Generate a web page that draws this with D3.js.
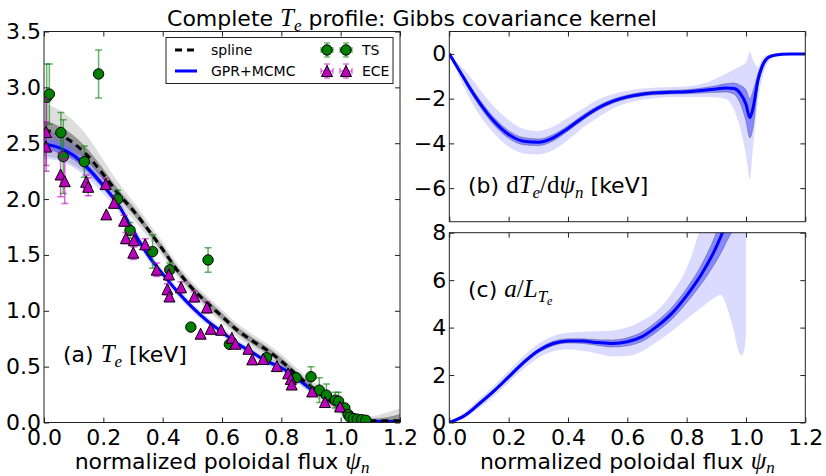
<!DOCTYPE html>
<html>
<head>
<meta charset="utf-8">
<script src="https://cdn.jsdelivr.net/npm/d3@7"></script>
<style>
  body { margin: 0; background: #fff; }
  svg { display: block; }
  text { font-family: "DejaVu Sans", sans-serif; fill: #000; }
</style>
</head>
<body>
<svg id="chart" width="826" height="476"></svg>
<script>
// ---------- (a) electron temperature profile ----------
const psiA = [0,0.05,0.1,0.15,0.2,0.25,0.3,0.35,0.4,0.45,0.5,0.55,0.6,0.65,0.7,0.75,0.8,0.85,0.9,0.95,1.0,1.05,1.1,1.15,1.2];
const splineTe  = [2.62,2.58,2.50,2.38,2.22,2.05,1.90,1.73,1.55,1.36,1.20,1.07,0.95,0.83,0.735,0.65,0.55,0.43,0.32,0.22,0.12,0.035,0.015,0.015,0.015];
const splineSd1 = [0.08,0.075,0.07,0.06,0.05,0.04,0.035,0.03,0.03,0.03,0.03,0.03,0.03,0.03,0.03,0.03,0.03,0.03,0.03,0.03,0.025,0.02,0.02,0.03,0.06];
const splineSd2 = [0.24,0.22,0.20,0.17,0.13,0.10,0.08,0.07,0.065,0.06,0.06,0.06,0.06,0.06,0.06,0.06,0.06,0.06,0.06,0.055,0.05,0.04,0.04,0.07,0.11];
const gprTe  = [2.49,2.46,2.39,2.27,2.12,1.95,1.72,1.50,1.33,1.17,1.03,0.91,0.81,0.71,0.63,0.55,0.49,0.40,0.30,0.23,0.15,0.03,0.01,0.01,0.01];
const gprSd1 = [0.05,0.045,0.04,0.035,0.03,0.025,0.02,0.02,0.02,0.02,0.018,0.018,0.018,0.018,0.018,0.018,0.018,0.018,0.018,0.018,0.015,0.012,0.01,0.01,0.01];
const gprSd2 = [0.13,0.12,0.11,0.09,0.075,0.06,0.05,0.045,0.04,0.04,0.038,0.038,0.038,0.038,0.038,0.038,0.038,0.038,0.036,0.034,0.03,0.022,0.02,0.02,0.02];

// Thomson scattering points: psi, Te, error
const tsPsi = [0.009,0.018,0.057,0.065,0.136,0.184,0.248,0.29,0.366,0.424,0.495,0.553,0.625,0.75,0.85,0.90,0.928,0.952,0.982,0.993,1.014,1.025,1.031,1.043,1.056,1.071,1.085];
const tsTe  = [2.91,2.94,2.595,2.38,2.335,3.12,2.00,1.72,1.53,1.367,0.854,1.455,0.70,0.58,0.40,0.41,0.29,0.245,0.20,0.19,0.13,0.071,0.048,0.036,0.03,0.025,0.02];
const tsErr = [0.30,0.27,0.18,0.33,0.14,0.215,0.08,0.07,0.15,0.06,0.02,0.11,0.02,0.03,0.03,0.09,0.11,0.10,0.07,0.08,0.03,0.02,0.01,0.01,0.01,0.01,0.01];

// ECE points: psi, Te, error
const ecePsi = [0.007,0.007,0.056,0.07,0.142,0.149,0.208,0.236,0.21,0.27,0.276,0.303,0.301,0.341,0.38,0.421,0.416,0.423,0.462,0.507,0.549,0.528,0.562,0.597,0.633,0.645,0.689,0.702,0.739,0.785,0.823,0.832,0.835,0.904,0.947,0.998];
const eceTe  = [2.60,2.47,2.22,2.16,2.155,2.11,2.135,1.967,1.863,1.806,1.65,1.632,1.52,1.595,1.368,1.325,1.193,1.128,1.21,1.128,1.03,0.795,0.839,0.83,0.758,0.705,0.66,0.565,0.568,0.505,0.44,0.39,0.34,0.278,0.183,0.143];
const eceErr = [0.30,0.22,0.20,0.20,0.06,0.08,0.05,0.05,0.04,0.05,0.05,0.06,0.06,0.05,0.06,0.05,0.05,0.04,0.05,0.05,0.05,0.04,0.03,0.03,0.03,0.03,0.03,0.03,0.03,0.03,0.03,0.03,0.03,0.03,0.03,0.03];

// ---------- (b) gradient dTe/dpsi ----------
const psiB = [0,0.025,0.05,0.075,0.1,0.15,0.2,0.25,0.3,0.35,0.4,0.45,0.5,0.55,0.6,0.65,0.7,0.75,0.8,0.85,0.9,0.93,0.96,0.98,1.0,1.013,1.025,1.04,1.055,1.07,1.09,1.12,1.15,1.2];
const dTe    = [0,-0.55,-1.1,-1.65,-2.15,-3.0,-3.6,-3.9,-3.95,-3.75,-3.33,-2.85,-2.43,-2.12,-1.92,-1.80,-1.74,-1.71,-1.69,-1.64,-1.57,-1.52,-1.55,-1.75,-2.25,-2.85,-2.35,-1.2,-0.55,-0.22,-0.08,-0.02,0,0];
const dTeLo1 = [0,-0.6,-1.2,-1.78,-2.3,-3.17,-3.77,-4.06,-4.1,-3.89,-3.45,-2.96,-2.53,-2.21,-2.0,-1.88,-1.82,-1.79,-1.78,-1.75,-1.72,-1.70,-1.8,-2.2,-3.0,-3.75,-3.2,-1.5,-0.7,-0.3,-0.12,-0.04,-0.01,0];
const dTeHi1 = [0,-0.5,-1.0,-1.52,-2.0,-2.83,-3.43,-3.74,-3.8,-3.61,-3.21,-2.74,-2.33,-2.03,-1.84,-1.72,-1.66,-1.63,-1.60,-1.53,-1.42,-1.34,-1.3,-1.4,-1.6,-2.0,-1.6,-0.9,-0.4,-0.14,-0.04,0,0.01,0];
const dTeLo2 = [0,-0.75,-1.5,-2.15,-2.7,-3.55,-4.15,-4.45,-4.5,-4.3,-3.85,-3.3,-2.85,-2.45,-2.2,-2.05,-1.97,-1.93,-1.93,-1.93,-1.95,-2.0,-2.5,-3.3,-4.5,-5.6,-4.0,-2.2,-1.1,-0.5,-0.2,-0.07,-0.02,0];
const dTeHi2 = [0,-0.35,-0.7,-1.1,-1.55,-2.35,-2.95,-3.35,-3.45,-3.25,-2.85,-2.45,-2.05,-1.8,-1.65,-1.55,-1.5,-1.48,-1.45,-1.35,-1.1,-0.9,-0.7,-0.55,-0.4,0.1,-0.3,-0.6,-0.2,-0.05,0.0,0.03,0.03,0.02];

// ---------- (c) normalized inverse gradient length a/L_Te ----------
const psiC = [0,0.05,0.1,0.15,0.2,0.25,0.3,0.35,0.4,0.45,0.5,0.55,0.6,0.65,0.7,0.75,0.8,0.85,0.9,0.915,0.94,0.96,0.975,0.985,0.993,1.0];
const aLT    = [0,0.28,0.78,1.32,1.92,2.52,3.02,3.33,3.44,3.43,3.37,3.33,3.40,3.62,4.05,4.6,5.35,6.25,7.4,7.83,8.6,9.2,9.7,10.0,10.3,10.5];
const aLTLo1 = [0,0.23,0.71,1.25,1.84,2.44,2.94,3.24,3.35,3.33,3.25,3.18,3.23,3.42,3.83,4.35,5.05,5.85,6.8,7.13,7.75,8.2,8.7,9.0,9.3,9.5];
const aLTHi1 = [0,0.33,0.85,1.39,2.0,2.6,3.1,3.42,3.53,3.53,3.49,3.48,3.57,3.82,4.27,4.85,5.65,6.65,8.0,8.53,9.45,10.2,10.7,11.0,11.3,11.5];
const aLTLo2 = [0,0.18,0.6,1.1,1.68,2.25,2.72,3.0,3.08,3.02,2.9,2.78,2.8,3.0,3.4,3.85,4.35,4.85,5.3,5.38,4.7,3.8,3.0,2.82,3.0,3.6];
const aLTHi2 = [0,0.4,0.98,1.55,2.18,2.8,3.32,3.65,3.78,3.82,3.85,3.88,4.0,4.3,4.7,5.45,6.5,8.3,10,11,12,12,12,12,12,12];

// Axis ticks
const xTicks  = [0,0.2,0.4,0.6,0.8,1.0,1.2];
const yTicksA = [0,0.5,1.0,1.5,2.0,2.5,3.0,3.5];
const yTicksB = [-6,-4,-2,0];
const yTicksC = [0,2,4,6,8];

// ---------- drawing ----------
const svg = d3.select("#chart");
const defs = svg.append("defs");
const FS = 22;

const xA = d3.scaleLinear().domain([0,1.2]).range([44,400]);
const yA = d3.scaleLinear().domain([0,3.5]).range([422.5,31.5]);
const xB = d3.scaleLinear().domain([0,1.2]).range([449.3,805.3]);
const yB = d3.scaleLinear().domain([-7.5,1]).range([221.7,31.5]);
const xC = xB;
const yC = d3.scaleLinear().domain([0,8]).range([422.5,232.7]);

function panel(id, x, y) {
  const [x0, x1] = x.range(), [y1, y0] = y.range();
  defs.append("clipPath").attr("id", "clip-" + id)
    .append("rect").attr("x", x0).attr("y", y0).attr("width", x1 - x0).attr("height", y1 - y0);
  const g = svg.append("g");
  const plot = g.append("g").attr("clip-path", `url(#clip-${id})`);
  return { g, plot, x0, x1, y0, y1 };
}

function axes(p, x, y, yTicks, fmtY, showX) {
  const g = p.g.append("g");
  const bottom = d3.axisBottom(x).tickValues(xTicks).tickSize(-5).tickPadding(7)
    .tickFormat(showX ? d3.format(".1f") : "");
  const top = d3.axisTop(x).tickValues(xTicks).tickSize(-5).tickFormat("");
  const left = d3.axisLeft(y).tickValues(yTicks).tickSize(-5).tickPadding(3).tickFormat(fmtY);
  const right = d3.axisRight(y).tickValues(yTicks).tickSize(-5).tickFormat("");
  const gb = g.append("g").attr("transform", `translate(0,${p.y1})`).call(bottom);
  const gt = g.append("g").attr("transform", `translate(0,${p.y0})`).call(top);
  const gl = g.append("g").attr("transform", `translate(${p.x0},0)`).call(left);
  const gr = g.append("g").attr("transform", `translate(${p.x1},0)`).call(right);
  [gb, gt, gl, gr].forEach(a => {
    a.select(".domain").remove();
    a.selectAll("line").attr("stroke", "#222").attr("stroke-width", 1);
    a.selectAll("text").attr("font-size", FS).attr("font-family", "DejaVu Sans").attr("fill", "#000");
  });
  g.append("rect").attr("x", p.x0).attr("y", p.y0)
    .attr("width", p.x1 - p.x0).attr("height", p.y1 - p.y0)
    .attr("fill", "none").attr("stroke", "#222").attr("stroke-width", 1);
}

function band(g, xs, lo, hi, x, y, fill, edge) {
  const pts = xs.map((v, i) => [v, lo[i], hi[i]]);
  const area = d3.area().x(d => x(d[0])).y0(d => y(d[1])).y1(d => y(d[2])).curve(d3.curveMonotoneX);
  g.append("path").datum(pts).attr("d", area).attr("fill", fill)
    .attr("stroke", edge || "none").attr("stroke-width", edge ? 0.8 : 0);
}

function line(g, xs, ys, x, y, color, width, dash) {
  const pts = xs.map((v, i) => [v, ys[i]]);
  g.append("path").datum(pts)
    .attr("d", d3.line().x(d => x(d[0])).y(d => y(d[1])).curve(d3.curveMonotoneX))
    .attr("fill", "none").attr("stroke", color).attr("stroke-width", width)
    .attr("stroke-dasharray", dash || null);
}

const sub = (a, b) => a.map((v, i) => v - b[i]);
const add = (a, b) => a.map((v, i) => v + b[i]);

const LIGHT_BLUE = "rgba(0,0,255,0.14)";
const DARK_BLUE = "rgba(0,0,255,0.38)";
const BAND_EDGE = "rgba(60,60,90,0.45)";

// ----- panel (a) -----
const pA = panel("a", xA, yA);
band(pA.plot, psiA, sub(splineTe, splineSd2), add(splineTe, splineSd2), xA, yA, "rgba(0,0,0,0.13)");
band(pA.plot, psiA, sub(splineTe, splineSd1), add(splineTe, splineSd1), xA, yA, "rgba(0,0,0,0.33)");
band(pA.plot, psiA, sub(gprTe, gprSd2), add(gprTe, gprSd2), xA, yA, LIGHT_BLUE);
band(pA.plot, psiA, sub(gprTe, gprSd1), add(gprTe, gprSd1), xA, yA, DARK_BLUE);
line(pA.plot, psiA, gprTe, xA, yA, "#0000ff", 3);
line(pA.plot, psiA, splineTe, xA, yA, "#000", 3, "7,5");

function errorBars(g, xs, ys, es, x, y, color) {
  const eg = g.append("g").attr("stroke", color).attr("stroke-width", 1.5);
  xs.forEach((v, i) => {
    if (es[i] * 111.7 < 5.5) return;
    const cx = x(v), ylo = y(ys[i] - es[i]), yhi = y(ys[i] + es[i]);
    eg.append("line").attr("x1", cx).attr("x2", cx).attr("y1", ylo).attr("y2", yhi);
    eg.append("line").attr("x1", cx - 3.5).attr("x2", cx + 3.5).attr("y1", ylo).attr("y2", ylo);
    eg.append("line").attr("x1", cx - 3.5).attr("x2", cx + 3.5).attr("y1", yhi).attr("y2", yhi);
  });
}
const TS_ERR = "rgba(0,128,0,0.6)";
const ECE_ERR = "rgba(191,0,191,0.6)";
const triPath = s => `M0,${-s}L${s},${s}L${-s},${s}Z`;

errorBars(pA.plot, tsPsi, tsTe, tsErr, xA, yA, TS_ERR);
pA.plot.append("g").selectAll("circle").data(tsPsi).join("circle")
  .attr("cx", d => xA(d)).attr("cy", (d, i) => yA(tsTe[i])).attr("r", 5.2)
  .attr("fill", "#008000").attr("stroke", "#000").attr("stroke-width", 1);
errorBars(pA.plot, ecePsi, eceTe, eceErr, xA, yA, ECE_ERR);
pA.plot.append("g").selectAll("path").data(ecePsi).join("path")
  .attr("transform", (d, i) => `translate(${xA(d)},${yA(eceTe[i])})`)
  .attr("d", triPath(5.5))
  .attr("fill", "#bf00bf").attr("stroke", "#000").attr("stroke-width", 1);
axes(pA, xA, yA, yTicksA, d3.format(".1f"), true);

// ----- panel (b) -----
const pB = panel("b", xB, yB);
band(pB.plot, psiB, dTeLo2, dTeHi2, xB, yB, LIGHT_BLUE);
band(pB.plot, psiB, dTeLo1, dTeHi1, xB, yB, DARK_BLUE, BAND_EDGE);
line(pB.plot, psiB, dTe, xB, yB, "#0000ff", 3);
axes(pB, xB, yB, yTicksB, d3.format("d"), false);

// ----- panel (c) -----
const pC = panel("c", xC, yC);
band(pC.plot, psiC, aLTLo2, aLTHi2, xC, yC, LIGHT_BLUE);
band(pC.plot, psiC, aLTLo1, aLTHi1, xC, yC, DARK_BLUE, BAND_EDGE);
line(pC.plot, psiC, aLT, xC, yC, "#0000ff", 3);
axes(pC, xC, yC, yTicksC, d3.format("d"), true);

// ----- legend -----
const lg = svg.append("g");
lg.append("rect").attr("x", 166).attr("y", 37.5).attr("width", 227).attr("height", 46)
  .attr("fill", "#fff").attr("stroke", "#222").attr("stroke-width", 1);
lg.append("line").attr("x1", 175).attr("x2", 197).attr("y1", 50).attr("y2", 50)
  .attr("stroke", "#000").attr("stroke-width", 3).attr("stroke-dasharray", "7,5");
lg.append("line").attr("x1", 175).attr("x2", 197).attr("y1", 71).attr("y2", 71)
  .attr("stroke", "#0000ff").attr("stroke-width", 3);
lg.append("text").attr("x", 211).attr("y", 55).attr("font-size", 14).text("spline");
lg.append("text").attr("x", 211).attr("y", 76).attr("font-size", 14).text("GPR+MCMC");
lg.append("text").attr("x", 362).attr("y", 55).attr("font-size", 14).text("TS");
lg.append("text").attr("x", 362).attr("y", 76).attr("font-size", 14).text("ECE");
function legendMarker(cx, cy, color, kind) {
  const g = lg.append("g").attr("stroke", color).attr("stroke-width", 1.3);
  g.append("line").attr("x1", cx - 6).attr("x2", cx + 6).attr("y1", cy).attr("y2", cy);
  g.append("line").attr("x1", cx - 6).attr("x2", cx - 6).attr("y1", cy - 3).attr("y2", cy + 3);
  g.append("line").attr("x1", cx + 6).attr("x2", cx + 6).attr("y1", cy - 3).attr("y2", cy + 3);
  g.append("line").attr("x1", cx).attr("x2", cx).attr("y1", cy - 7).attr("y2", cy + 7);
  g.append("line").attr("x1", cx - 3).attr("x2", cx + 3).attr("y1", cy - 7).attr("y2", cy - 7);
  g.append("line").attr("x1", cx - 3).attr("x2", cx + 3).attr("y1", cy + 7).attr("y2", cy + 7);
  if (kind === "circle") {
    lg.append("circle").attr("cx", cx).attr("cy", cy).attr("r", 5.2)
      .attr("fill", "#008000").attr("stroke", "#000");
  } else {
    lg.append("path").attr("transform", `translate(${cx},${cy})`).attr("d", triPath(5.5))
      .attr("fill", "#bf00bf").attr("stroke", "#000");
  }
}
[327, 346].forEach(cx => { legendMarker(cx, 50, TS_ERR, "circle"); legendMarker(cx, 71, ECE_ERR, "tri"); });

// ----- text with math pieces -----
const SERIF = "Liberation Serif";
function rich(x, y, anchor, parts) {
  const t = svg.append("text").attr("x", x).attr("y", y).attr("text-anchor", anchor).attr("font-size", FS);
  let shift = 0;
  parts.forEach(p => {
    const s = t.append("tspan").text(p.t);
    const target = p.dy || 0;
    if (target !== shift) { s.attr("dy", target - shift); shift = target; }
    if (p.f === "it") s.attr("font-family", SERIF).attr("font-style", "italic").attr("font-size", p.s || 25);
    if (p.f === "rm") s.attr("font-family", SERIF).attr("font-size", p.s || 25);
    if (p.f === "sans" && p.s) s.attr("font-size", p.s);
  });
  return t;
}

rich(412, 26, "middle", [
  { t: "Complete ", f: "sans" }, { t: "T", f: "it" }, { t: "e", f: "it", s: 17, dy: 5 },
  { t: " profile: Gibbs covariance kernel", f: "sans" }
]);
rich(63, 362, "start", [
  { t: "(a) ", f: "sans" }, { t: "T", f: "it" }, { t: "e", f: "it", s: 17, dy: 5 }, { t: " [keV]", f: "sans" }
]);
rich(468, 193, "start", [
  { t: "(b) ", f: "sans" }, { t: "d", f: "rm" }, { t: "T", f: "it" }, { t: "e", f: "it", s: 17, dy: 5 },
  { t: "/d", f: "rm" }, { t: "ψ", f: "it" }, { t: "n", f: "it", s: 17, dy: 5 }, { t: "  [keV]", f: "sans" }
]);
rich(468, 297, "start", [
  { t: "(c) ", f: "sans" }, { t: "a", f: "it" }, { t: "/", f: "rm" }, { t: "L", f: "it" },
  { t: "T", f: "it", s: 17, dy: 5 }, { t: "e", f: "it", s: 12, dy: 8 }
]);
[xA, xC].forEach(x => {
  const [r0, r1] = x.range();
  rich((r0 + r1) / 2, 469, "middle", [
    { t: "normalized poloidal flux ", f: "sans" }, { t: "ψ", f: "it" }, { t: "n", f: "it", s: 17, dy: 4 }
  ]);
});
</script>
</body>
</html>
